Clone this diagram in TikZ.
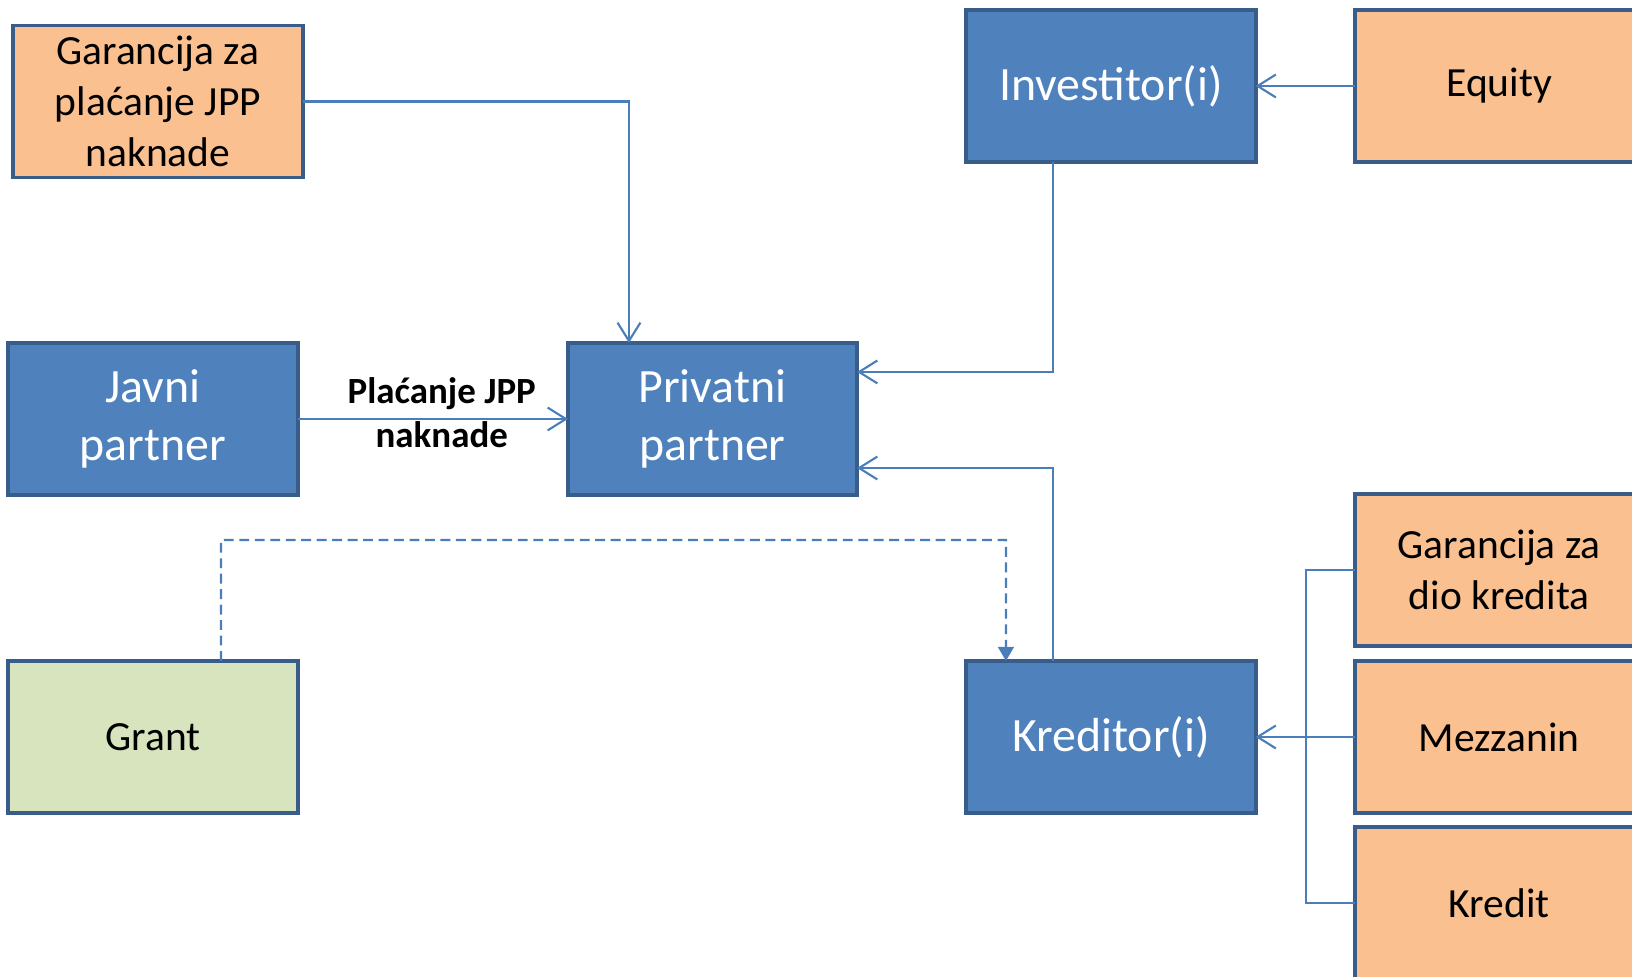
\documentclass[tikz,border=0pt]{standalone}
\usepackage{fontspec}
\setmainfont{Carlito}
\usepackage{tikz}
\usetikzlibrary{arrows.meta,positioning,calc}

\definecolor{boxblue}{HTML}{4F81BD}
\definecolor{boxline}{HTML}{385D8A}
\definecolor{boxorange}{HTML}{FAC090}
\definecolor{boxgreen}{HTML}{D7E4BD}
\definecolor{flowline}{HTML}{4A7EBB}

\begin{document}
\begin{tikzpicture}[->, >={Straight Barb[length=5.2pt,width=6.5pt]}, x=0.01cm, y=-0.01cm]
\tikzstyle{bluebox}=[rectangle,draw=boxline,fill=boxblue,line width=1.1pt,minimum width=2.89cm,minimum height=1.52cm,inner sep=0pt,outer sep=0pt,align=center,text=white,font=\fontsize{13.6}{16.6}\selectfont]
\tikzstyle{orangebox}=[bluebox,fill=boxorange,text=black,font=\fontsize{11.8}{14.4}\selectfont]
\tikzstyle{greenbox}=[orangebox,fill=boxgreen]
\tikzstyle{link}=[draw=flowline,line width=0.6pt]
\tikzstyle{flowlabel}=[inner sep=0pt,align=center,font=\fontsize{10.5}{12.6}\selectfont\bfseries,xshift=0.09cm,yshift=0.06cm]
\useasboundingbox (0,0) rectangle (1632,977);

\node[orangebox] (garjpp)   at (158,101.5) {Garancija za\\plaćanje JPP\\naknade};
\node[bluebox]   (investitor) at (1111,86) {Investitor(i)};
\node[orangebox] (equity)   [right=0.99cm of investitor] {Equity};
\node[bluebox]   (javni)    at (153,419)   {Javni\\partner};
\node[bluebox]   (privatni) at (712.5,419) {Privatni\\partner};
\node[greenbox]  (grant)    at (153,737)   {Grant};
\node[bluebox]   (kreditor) at (1111,737)  {Kreditor(i)};
\node[orangebox] (mezzanin) [right=0.99cm of kreditor]  {Mezzanin};
\node[orangebox] (garkredit)[above=0.15cm of mezzanin] {Garancija za\\dio kredita};
\node[orangebox] (kredit)   [below=0.14cm of mezzanin] {Kredit};
\coordinate (grantbend) at (1006,540);

\draw[link] (garjpp.east) -| ([xshift=-0.835cm]privatni.north);
\draw[link] ([xshift=-0.58cm]investitor.south) |- ([yshift=0.47cm]privatni.east);
\draw[link] ([xshift=-0.58cm]kreditor.north) |- ([yshift=-0.49cm]privatni.east);
\draw[link] (javni) -- node[flowlabel] {Plaćanje JPP\\naknade} (privatni);
\draw[link] (equity) -- (investitor);
\draw[link,dashed,dash pattern=on 2.8pt off 1.6pt,-{Triangle[length=4pt,width=4.5pt]}]
  ([xshift=0.68cm]grant.north) |- (grantbend) -- ([xshift=-1.05cm]kreditor.north);
\draw[link] (mezzanin) -- (kreditor);
%\draw[link] (kredit) -- (kreditor);
\draw[link,-] (garkredit.west) -- ++(-0.49cm,0) |- (kredit.west);
\end{tikzpicture}
\end{document}
